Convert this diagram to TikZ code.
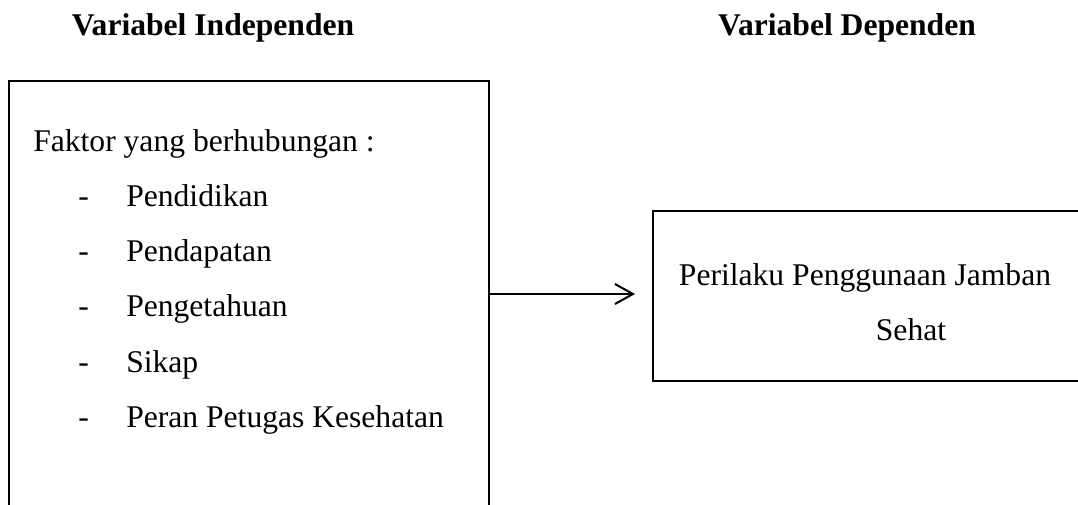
\documentclass[tikz,border=0pt]{standalone}
\usepackage{fontspec}
\setmainfont{Liberation Serif}
\usetikzlibrary{arrows.meta,positioning}

\begin{document}
\begin{tikzpicture}[x=0.75pt,y=-0.75pt,every node/.style={font=\fontsize{23.7}{28}\selectfont},
  box/.style={draw,line width=1.5pt,inner sep=0pt,outer sep=0pt},
  txt/.style={anchor=base west,inner sep=0pt}]
\useasboundingbox (0,0) rectangle (1078,505);
\clip (0,0) rectangle (1078,505);
\node[anchor=base,inner sep=0pt,font=\fontsize{23.7}{28}\selectfont\bfseries] (tindep) at (213,36) {Variabel Independen};
\node[anchor=base,inner sep=0pt,font=\fontsize{23.7}{28}\selectfont\bfseries] (tdep) at (847,36) {Variabel Dependen};
\node[box,minimum width=360pt,minimum height=319.5pt] (indep) at (249,294) {};
\node[box,minimum width=337.5pt,minimum height=127.5pt] (dep) at (878,296) {};
\node[txt] (faktor) at (33,152) {Faktor yang berhubungan :};
\node[txt] (d1) at (78,207) {-};\node[txt] (f1) at (126,207) {Pendidikan};
\node[txt] (d2) at (78,262) {-};\node[txt] (f2) at (126,262) {Pendapatan};
\node[txt] (d3) at (78,317) {-};\node[txt] (f3) at (126,317) {Pengetahuan};
\node[txt] (d4) at (78,373) {-};\node[txt] (f4) at (126,373) {Sikap};
\node[txt] (d5) at (78,428) {-};\node[txt] (f5) at (126,428) {Peran Petugas Kesehatan};
\node[anchor=base,inner sep=0pt] (perilaku) at (865,286) {Perilaku Penggunaan Jamban};
\node[anchor=base,inner sep=0pt] (sehat) at (911,341) {Sehat};
\draw[line width=1.5pt,-{Straight Barb[length=13.5pt,width=15pt,line width=1.5pt]},shorten >=13.5pt]
  (indep.east) -- (indep.east -| dep.west);
\end{tikzpicture}
\end{document}
